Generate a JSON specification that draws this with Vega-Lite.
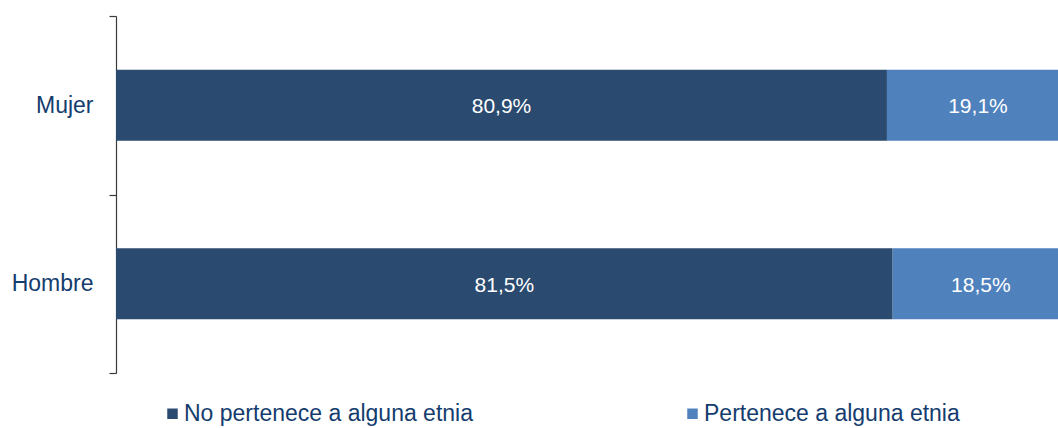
{
  "$schema": "https://vega.github.io/schema/vega-lite/v6.json",
  "width": 942,
  "height": 357,
  "padding": {"left": 0, "top": 5, "right": 0, "bottom": 0},
  "background": "#ffffff",
  "config": {
    "view": {"stroke": null},
    "font": "Liberation Sans",
    "locale": {"number": {"decimal": ",", "thousands": ".", "grouping": [3], "currency": ["$", ""]}}
  },
  "data": {
    "values": [
      {"sexo": "Mujer", "grupo": "No pertenece a alguna etnia", "valor": 0.809, "orden": 1},
      {"sexo": "Mujer", "grupo": "Pertenece a alguna etnia", "valor": 0.191, "orden": 2},
      {"sexo": "Hombre", "grupo": "No pertenece a alguna etnia", "valor": 0.815, "orden": 1},
      {"sexo": "Hombre", "grupo": "Pertenece a alguna etnia", "valor": 0.185, "orden": 2}
    ]
  },
  "encoding": {
    "y": {
      "field": "sexo",
      "type": "nominal",
      "sort": ["Mujer", "Hombre"],
      "scale": {"paddingInner": 0, "paddingOuter": 0},
      "axis": {
        "title": null,
        "domain": true,
        "domainColor": "#3a3a3a",
        "domainWidth": 1.2,
        "ticks": true,
        "tickBand": "extent",
        "tickSize": 7,
        "tickColor": "#3a3a3a",
        "tickWidth": 1.2,
        "labelPadding": 16,
        "labelFontSize": 23,
        "labelColor": "#143C6E",
        "labelFont": "Liberation Sans",
        "minExtent": 116,
        "maxExtent": 116,
        "grid": false
      }
    },
    "x": {
      "field": "valor",
      "type": "quantitative",
      "stack": "zero",
      "scale": {"domain": [0, 0.9885], "nice": false, "zero": true},
      "axis": null
    },
    "order": {"field": "orden", "type": "quantitative"}
  },
  "layer": [
    {
      "mark": {"type": "bar", "size": 71, "clip": true},
      "encoding": {
        "color": {
          "field": "grupo",
          "type": "nominal",
          "scale": {
            "domain": ["No pertenece a alguna etnia", "Pertenece a alguna etnia"],
            "range": ["#2A4A6F", "#4F81BD"]
          },
          "legend": {
            "title": null,
            "orient": "none",
            "legendX": 45,
            "legendY": 386,
            "direction": "horizontal",
            "symbolType": "square",
            "symbolSize": 110,
            "symbolStrokeWidth": 0,
            "labelFontSize": 23,
            "labelColor": "#143C6E",
            "labelFont": "Liberation Sans",
            "labelOffset": 0,
            "labelLimit": 500,
            "columnPadding": 208
          }
        }
      }
    },
    {
      "mark": {"type": "text", "color": "#ffffff", "fontSize": 21, "font": "Liberation Sans", "baseline": "middle", "align": "center", "dy": 2},
      "encoding": {
        "x": {"field": "valor", "type": "quantitative", "stack": "zero", "bandPosition": 0.5},
        "text": {"field": "valor", "type": "quantitative", "format": ".1%"}
      }
    }
  ]
}
